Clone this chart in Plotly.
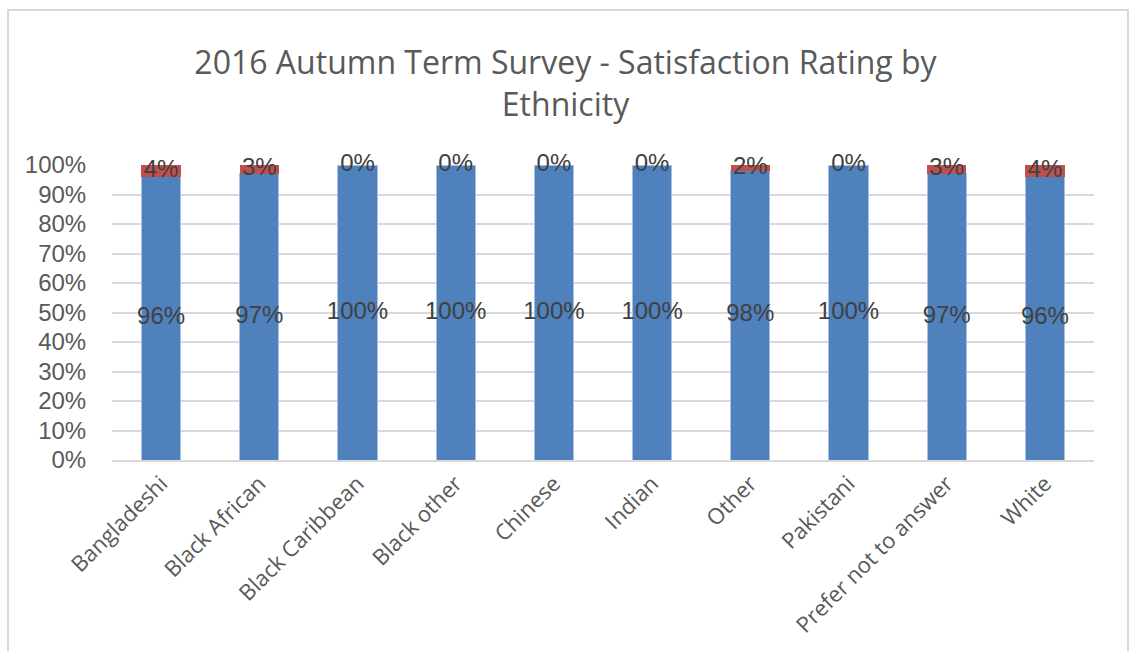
import plotly.graph_objects as go

categories = ["Bangladeshi", "Black African", "Black Caribbean", "Black other", "Chinese",
              "Indian", "Other", "Pakistani", "Prefer not to answer", "White"]
satisfied = [96, 97, 100, 100, 100, 100, 98, 100, 97, 96]
not_satisfied = [4, 3, 0, 0, 0, 0, 2, 0, 3, 4]

BLUE = "#4F81BD"
RED = "#C0504D"
LABEL_FONT = dict(family="Liberation Sans, Arial, sans-serif", size=24, color="#404040")

fig = go.Figure()
fig.add_trace(go.Bar(x=categories, y=satisfied, marker=dict(color=BLUE, line=dict(color="#A9C0E0", width=1)),
                     name="Satisfied", hoverinfo="x+y"))
fig.add_trace(go.Bar(x=categories, y=not_satisfied, marker=dict(color=RED, line=dict(width=0)),
                     name="Not satisfied", hoverinfo="x+y"))

# data labels centred in each segment
fig.add_trace(go.Scatter(x=categories, y=[v / 2 for v in satisfied], mode="text",
                         text=[f"{v}%" for v in satisfied], textfont=LABEL_FONT, cliponaxis=False,
                         textposition="middle center", showlegend=False, hoverinfo="skip"))
fig.add_trace(go.Scatter(x=categories, y=[s + n / 2 for s, n in zip(satisfied, not_satisfied)],
                         mode="text", text=[f"{v}%" for v in not_satisfied], textfont=LABEL_FONT,
                         cliponaxis=False,
                         textposition="middle center", showlegend=False, hoverinfo="skip"))

L, R, T, B = 112, 37, 165, 191
W, H = 1131, 651
pw, ph = W - L - R, H - T - B

def px_x(x):
    return (x - L) / pw

def px_y(y):
    return (H - B - y) / ph

fig.update_layout(
    width=W, height=H,
    barmode="stack", bargap=0.6,
    showlegend=False,
    paper_bgcolor="white", plot_bgcolor="white",
    margin=dict(l=L, r=R, t=T, b=B, pad=0),
    title=dict(text="2016 Autumn Term Survey - Satisfaction Rating by<br>Ethnicity",
               x=0.5, xanchor="center", y=1 - 74 / H, yanchor="top",
               font=dict(family="Open Sans, Lato, sans-serif", size=32, color="#595959")),
    xaxis=dict(tickangle=-45, tickfont=dict(family="Open Sans, sans-serif", size=22, color="#595959"),
               showgrid=False, showline=True, linecolor="#D9D9D9", linewidth=2, ticks=""),
    yaxis=dict(range=[0, 100], dtick=10, ticksuffix="%", showgrid=True, gridcolor="#D9D9D9", gridwidth=2,
               zeroline=False, showline=False,
               tickfont=dict(family="Liberation Sans, Arial, sans-serif", size=24, color="#595959"),
               ticks="outside", ticklen=20, tickcolor="rgba(0,0,0,0)"),
    shapes=[dict(type="rect", xref="paper", yref="paper",
                 x0=px_x(8), x1=px_x(1128), y0=px_y(700), y1=px_y(10),
                 line=dict(color="#D9D9D9", width=2), fillcolor="rgba(0,0,0,0)", layer="below")],
)

fig.write_html("out.html")
